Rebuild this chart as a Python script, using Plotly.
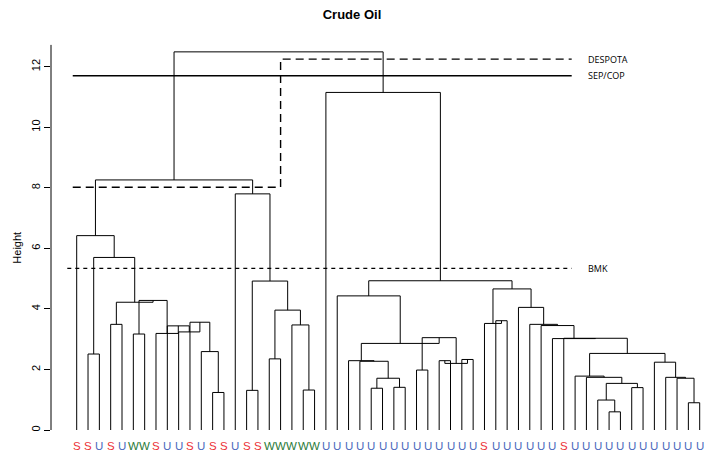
import plotly.graph_objects as go

# Leaf labels in dendrogram order (S = Sub-Mulinia, U = Upper, W = Wilhelm)
leaf_labels = list("SSUSUWWSUUSUSSUSSWWWWW") + ["U"] * 14 + ["S"] + ["U"] * 6 + ["S"] + ["U"] * 12
label_colors = {"S": "#EC3338", "U": "#4A69BD", "W": "#2A7A38"}

# Agglomeration steps, R hclust style: negative = leaf position, positive = earlier step (1-based)
merge_left = [-13, -12, -11, -10, -9, -8, -6, 7, -4, 9, -2, 11, -1, -21, -20, -18, 16, -16, 18, -15, 13,
              -27, -29, 22, -26, -25, -31, -33, -35, 28, 27, 26, -24, -38, -37, -48, -47, -50, 37, -46,
              -45, -55, -54, -53, -52, 41, -44, -43, -42, -41, -40, 35, 33, -23, 21]
merge_right = [-14, 1, 2, 3, 4, 5, -7, 6, -5, 8, -3, 10, 12, -22, 14, -19, 15, -17, 17, 19, 20,
               -28, -30, 23, 24, 25, -32, -34, -36, 29, 30, 31, 32, -39, 34, -49, 36, -51, 38, 39,
               40, -56, 42, 43, 44, 45, 46, 47, 48, 49, 50, 51, 52, 53, 54]
merge_height = [1.24, 2.59, 3.56, 3.24, 3.44, 3.19, 3.17, 4.28, 3.49, 4.22, 2.51, 5.70, 6.42, 1.32, 3.47,
                2.35, 3.96, 1.31, 4.92, 7.80, 8.26,
                1.38, 1.41, 1.71, 2.27, 2.29, 1.98, 2.29, 2.33, 2.20, 3.05, 2.86, 4.43, 3.61, 3.52,
                0.60, 0.99, 1.40, 1.54, 1.74, 1.78, 0.90, 1.71, 1.74, 2.24, 2.53, 3.03, 3.02, 3.45,
                3.49, 4.05, 4.66, 4.93, 11.15, 12.49]

# Cut levels from the three partitioning rules
cut_names = ["DESPOTA", "SEP/COP", "BMK"]
sep_cop_height = 11.70
bmk_height = 5.34
despota_low, despota_high, despota_step = 8.02, 12.25, 19.0
cut_x_start = 0.65
bmk_x_start = 0.17
cut_x_end = 44.7
cut_label_x = 45.95

# Position of every node: leaves at 1..n, merges centred over their children
node_x, node_h = {}, {}


def pos(ref):
    if ref < 0:
        return float(-ref), 0.0
    return node_x[ref], node_h[ref]


seg_x, seg_y = [], []
for k, (a, b, h) in enumerate(zip(merge_left, merge_right, merge_height), start=1):
    xa, ha = pos(a)
    xb, hb = pos(b)
    seg_x += [xa, xa, xb, xb, None]
    seg_y += [ha, h, h, hb, None]
    node_x[k] = (xa + xb) / 2
    node_h[k] = h

fig = go.Figure()
fig.add_trace(go.Scatter(x=seg_x, y=seg_y, mode="lines",
                         line=dict(color="black", width=1), hoverinfo="skip", showlegend=False))

# Cut lines
fig.add_trace(go.Scatter(x=[cut_x_start, despota_step, despota_step, cut_x_end],
                         y=[despota_low, despota_low, despota_high, despota_high],
                         mode="lines", line=dict(color="black", width=1.4, dash="8px,5px"),
                         hoverinfo="skip", showlegend=False))
fig.add_trace(go.Scatter(x=[cut_x_start, cut_x_end], y=[sep_cop_height, sep_cop_height],
                         mode="lines", line=dict(color="black", width=1.4),
                         hoverinfo="skip", showlegend=False))
fig.add_trace(go.Scatter(x=[bmk_x_start, cut_x_end], y=[bmk_height, bmk_height],
                         mode="lines", line=dict(color="black", width=1.4, dash="4px,4px"),
                         hoverinfo="skip", showlegend=False))

annotations = []
for name, yv in zip(cut_names, [despota_high, sep_cop_height, bmk_height]):
    annotations.append(dict(x=cut_label_x, y=yv, xref="x", yref="y", text=name, showarrow=False,
                            xanchor="left", yanchor="middle",
                            font=dict(family="Open Sans", size=9, color="black")))

for i, lab in enumerate(leaf_labels, start=1):
    annotations.append(dict(x=i, y=-0.015, xref="x", yref="paper", text=lab, showarrow=False,
                            xanchor="center", yanchor="middle",
                            font=dict(family="Liberation Sans", size=11.5, color=label_colors[lab])))

annotations.append(dict(x=-0.052, y=0.475, xref="paper", yref="paper", text="Height", showarrow=False,
                        textangle=-90, xanchor="center", yanchor="middle",
                        font=dict(family="Liberation Sans", size=11, color="black")))

fig.update_layout(
    width=704, height=454,
    margin=dict(l=51, r=0, t=35, b=14),
    paper_bgcolor="white", plot_bgcolor="white",
    title=dict(text="<b>Crude Oil</b>", x=0.5, xanchor="center", y=1 - 14 / 454, yanchor="middle",
               font=dict(family="Liberation Sans", size=13, color="black")),
    xaxis=dict(range=[-1.269, 56.38], visible=False, showgrid=False, zeroline=False),
    yaxis=dict(range=[-0.330, 13.047], tickvals=[0, 2, 4, 6, 8, 10, 12], ticks="outside", ticklen=6,
               tickcolor="black", tickwidth=1, tickangle=-90, showline=False, showgrid=False,
               zeroline=False, tickfont=dict(family="Liberation Sans", size=11, color="black")),
    annotations=annotations,
    shapes=[dict(type="line", xref="paper", yref="y", x0=0, x1=0, y0=0, y1=12.72,
                 line=dict(color="black", width=1))],
)

fig.write_html("out.html")
